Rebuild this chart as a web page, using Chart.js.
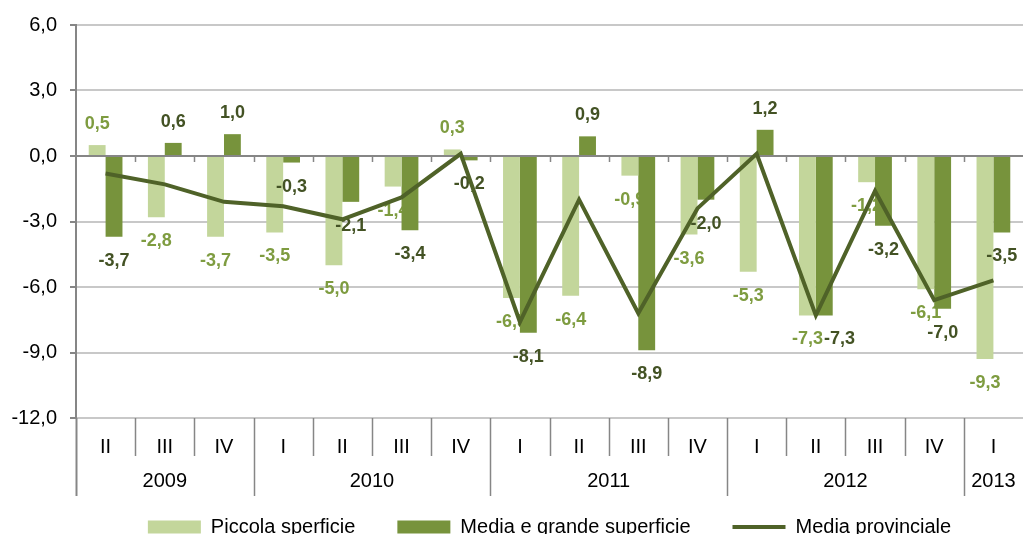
<!DOCTYPE html>
<html>
<head>
<meta charset="utf-8">
<script src="https://cdn.jsdelivr.net/npm/chart.js@4.4.1/dist/chart.umd.min.js"></script>
<style>
  html, body { margin: 0; padding: 0; background: #fff; overflow: hidden; }
  #wrap { position: relative; width: 1023px; height: 547px; }
</style>
</head>
<body>
<div id="wrap"><canvas id="chart"></canvas></div>
<script>
const quarters = ['II', 'III', 'IV', 'I', 'II', 'III', 'IV', 'I', 'II', 'III', 'IV', 'I', 'II', 'III', 'IV', 'I'];
const years = ['2009', '2010', '2011', '2012', '2013'];
const quartersPerYear = [3, 4, 4, 4, 1];
const piccola = [0.5, -2.8, -3.7, -3.5, -5.0, -1.4, 0.3, -6.5, -6.4, -0.9, -3.6, -5.3, -7.3, -1.2, -6.1, -9.3];
const mediaGrande = [-3.7, 0.6, 1.0, -0.3, -2.1, -3.4, -0.2, -8.1, 0.9, -8.9, -2.0, 1.2, -7.3, -3.2, -7.0, -3.5];
const mediaProvinciale = [-0.8, -1.3, -2.1, -2.3, -2.9, -1.9, 0.1, -7.6, -2.0, -7.2, -2.4, 0.1, -7.3, -1.6, -6.6, -5.7];

const FONT = 'Arial, "Liberation Sans", sans-serif';
const AXIS_GREY = '#868686';
const fmt = (v) => v.toFixed(1).replace('.', ',');
const labelY = (bar, v) => v >= 0 ? bar.y - 21 : bar.y + 24;

function drawLabels(chart, di) {
  const ctx = chart.ctx;
  const ds = chart.data.datasets[di];
  const lightDs = chart.data.datasets[0];
  const lightBars = chart.getDatasetMeta(0).data;
  ctx.save();
  ctx.font = 'bold 18px ' + FONT;
  ctx.textAlign = 'center';
  ctx.textBaseline = 'middle';
  ctx.fillStyle = ds.labelColor;
  chart.getDatasetMeta(di).data.forEach((bar, i) => {
    const v = ds.data[i];
    const y = labelY(bar, v);
    let x = bar.x;
    if (di === 1) {
      // nudge the dark label right when it would run into the light one
      const lv = lightDs.data[i];
      const ly = labelY(lightBars[i], lv);
      if (Math.abs(ly - y) < 18) {
        const lw = ctx.measureText(fmt(lv)).width;
        const w = ctx.measureText(fmt(v)).width;
        x = Math.max(x, lightBars[i].x + lw / 2 + 1 + w / 2);
      }
    }
    ctx.fillText(fmt(v), x, y);
  });
  ctx.restore();
}

// light labels sit under every bar, dark labels over the bars but under the line
const valueLabels = {
  id: 'valueLabels',
  beforeDatasetsDraw(chart) {
    drawLabels(chart, 0);
  },
  afterDatasetDraw(chart, args) {
    if (args.index === 0) drawLabels(chart, 1);
  }
};

// quarter / year separators, year labels and tick marks on the zero line
const yearAxis = {
  id: 'yearAxis',
  afterDraw(chart) {
    const { ctx, scales: { x, y }, chartArea } = chart;
    const step = x.getPixelForValue(1) - x.getPixelForValue(0);
    const bottom = chartArea.bottom;
    const zero = y.getPixelForValue(0);
    ctx.save();
    ctx.strokeStyle = AXIS_GREY;

    // tick marks under the zero line
    ctx.lineWidth = 1.5;
    for (let i = 1; i < quarters.length; i++) {
      const bx = Math.round(x.getPixelForValue(i) - step / 2) + 0.5;
      ctx.beginPath();
      ctx.moveTo(bx, zero);
      ctx.lineTo(bx, zero + 6);
      ctx.stroke();
    }

    const yearStarts = new Set();
    let acc = 0;
    quartersPerYear.forEach((n) => { yearStarts.add(acc); acc += n; });

    for (let i = 0; i < quarters.length; i++) {
      const bx = Math.round(x.getPixelForValue(i) - step / 2) + 0.5;
      ctx.lineWidth = i === 0 ? 2 : 1.5;
      ctx.beginPath();
      ctx.moveTo(bx, bottom);
      ctx.lineTo(bx, yearStarts.has(i) ? bottom + 78 : bottom + 38);
      ctx.stroke();
    }

    ctx.fillStyle = '#000';
    ctx.font = '20px ' + FONT;
    ctx.textAlign = 'center';
    ctx.textBaseline = 'middle';
    acc = 0;
    years.forEach((yr, k) => {
      const n = quartersPerYear[k];
      const x0 = x.getPixelForValue(acc) - step / 2;
      const x1 = x.getPixelForValue(acc + n - 1) + step / 2;
      ctx.fillText(yr, (x0 + x1) / 2, bottom + 63);
      acc += n;
    });
    ctx.restore();
  }
};

new Chart(document.getElementById('chart'), {
  type: 'bar',
  data: {
    labels: quarters,
    datasets: [
      {
        label: 'Piccola sperficie',
        data: piccola,
        backgroundColor: '#C3D69B',
        labelColor: '#7E9C40',
        pointStyle: 'rect',
        order: 1,
        categoryPercentage: 0.57,
        barPercentage: 1.0
      },
      {
        label: 'Media e grande superficie',
        data: mediaGrande,
        backgroundColor: '#77933C',
        labelColor: '#435224',
        pointStyle: 'rect',
        order: 2,
        categoryPercentage: 0.57,
        barPercentage: 1.0
      },
      {
        type: 'line',
        label: 'Media provinciale',
        data: mediaProvinciale,
        borderColor: '#4F6228',
        backgroundColor: '#4F6228',
        borderWidth: 4,
        pointRadius: 0,
        pointStyle: 'line',
        tension: 0,
        order: 0
      }
    ]
  },
  options: {
    animation: false,
    responsive: true,
    maintainAspectRatio: false,
    layout: { padding: { top: 23, right: 0, left: 0, bottom: 0 } },
    plugins: {
      tooltip: { enabled: false },
      legend: {
        position: 'bottom',
        fullSize: false,
        labels: {
          usePointStyle: true,
          pointStyleWidth: 53,
          boxHeight: 13,
          padding: 42,
          color: '#000',
          font: { family: FONT, size: 20 },
          sort: (a, b) => a.datasetIndex - b.datasetIndex
        }
      }
    },
    scales: {
      x: {
        grid: { display: false },
        border: { display: false },
        ticks: {
          color: '#000',
          font: { family: FONT, size: 20 },
          padding: 9,
          maxRotation: 0,
          autoSkip: false
        },
        afterFit: (scale) => { scale.height = 57; }
      },
      y: {
        min: -12,
        max: 6,
        ticks: {
          stepSize: 3,
          padding: 13,
          color: '#000',
          font: { family: FONT, size: 20 },
          callback: (v) => fmt(v)
        },
        grid: {
          color: (c) => c.tick && c.tick.value === 0 ? AXIS_GREY : '#C8C8C8',
          lineWidth: 2,
          tickColor: AXIS_GREY,
          tickLength: 6,
          tickWidth: 2
        },
        border: { display: true, color: AXIS_GREY, width: 2 },
        afterFit: (scale) => { scale.width = 76; }
      }
    }
  },
  plugins: [valueLabels, yearAxis]
});
</script>
</body>
</html>
